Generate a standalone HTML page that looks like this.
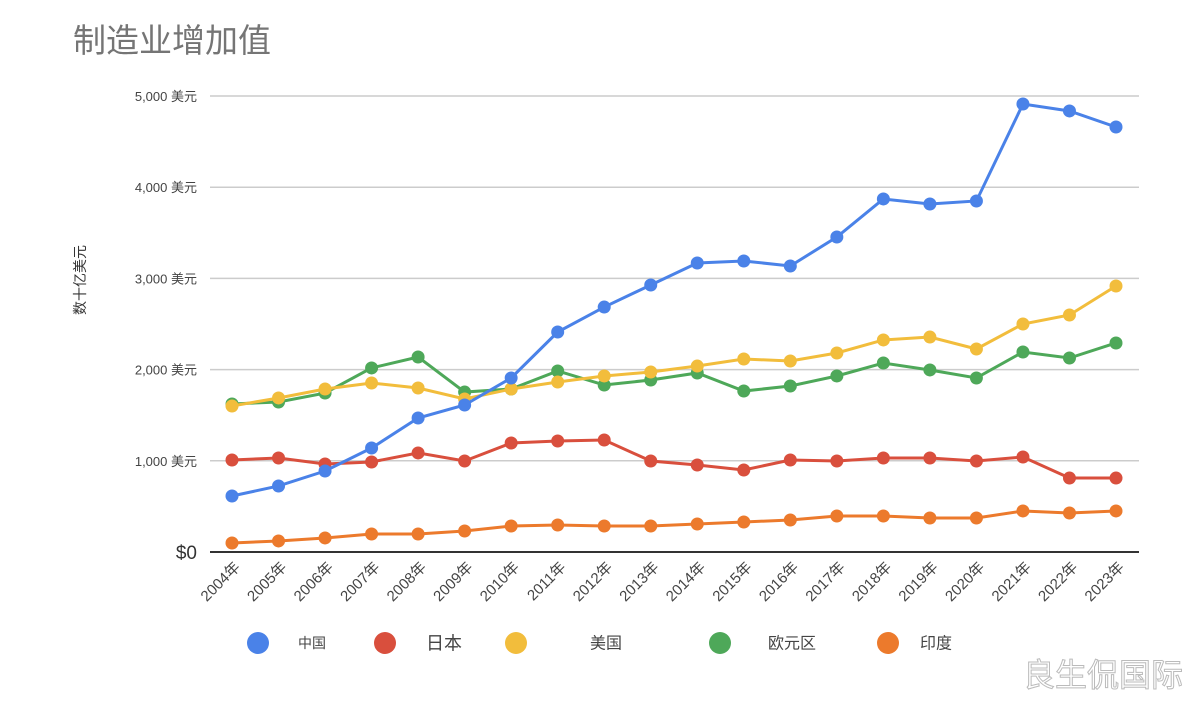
<!DOCTYPE html>
<html><head><meta charset="utf-8"><style>
body{margin:0;background:#fff;}
svg{display:block;font-family:"Liberation Sans","Noto Sans CJK SC",sans-serif;}
</style></head><body>
<svg id="c" width="1200" height="713" viewBox="0 0 1200 713">
<text x="73" y="52" font-size="33" fill="#757575">制造业增加值</text>
<text x="0" y="0" font-size="14" fill="#333" transform="translate(85,280) rotate(-90)" text-anchor="middle">数十亿美元</text>
<g id="grid"></g><g id="xl"></g><g id="series"></g><g id="legend"></g>
<text x="1183" y="686" font-size="32" fill="#fff" stroke="#bbb" stroke-width="1" text-anchor="end">良生侃国际</text>
</svg>
<script>
const years=["2004年","2005年","2006年","2007年","2008年","2009年","2010年","2011年","2012年","2013年","2014年","2015年","2016年","2017年","2018年","2019年","2020年","2021年","2022年","2023年"];
const yTicks=[1000,2000,3000,4000,5000];
const yTickLabels=["1,000 美元","2,000 美元","3,000 美元","4,000 美元","5,000 美元"];
const china=[614,724,888,1140,1469,1612,1908,2412,2686,2928,3169,3191,3136,3454,3871,3816,3849,4912,4836,4660];
const japan=[1009,1031,965,987,1086,998,1195,1217,1228,998,954,899,1009,998,1031,1031,998,1042,811,811];
const usa=[1601,1689,1787,1853,1798,1678,1787,1864,1930,1974,2039,2116,2094,2182,2325,2357,2226,2500,2599,2917];
const euro=[1623,1645,1743,2018,2138,1754,1787,1985,1831,1886,1963,1765,1820,1930,2072,1996,1908,2193,2127,2292];
const india=[99,121,154,197,197,230,285,296,285,285,307,329,351,395,395,373,373,450,428,450];
const names=["中国","日本","美国","欧元区","印度"];
const NS="http://www.w3.org/2000/svg";
const X=i=>232+i*(884/19), Y=v=>552-v*0.0912;
function mk(t,a,p){const e=document.createElementNS(NS,t);for(const k in a)e.setAttribute(k,a[k]);p.appendChild(e);return e;}
const grid=document.getElementById('grid');
yTicks.forEach((v,i)=>{
 const l=mk('line',{x1:210,x2:1139,y1:Y(v),y2:Y(v),stroke:'#ccc','stroke-width':1.5},grid);
 
 
 const t=mk('text',{x:197,y:Y(v)+5,'font-size':13,fill:'#444','text-anchor':'end'},grid);t.textContent=yTickLabels[i];
 
 
});
const z=mk('text',{x:197,y:559,'font-size':19,fill:'#333','text-anchor':'end'},grid);z.textContent='$0';


const ax=mk('line',{x1:210,x2:1139,y1:552,y2:552,stroke:'#333','stroke-width':2},grid);


const xl=document.getElementById('xl');
years.forEach((y,i)=>{
 const x=X(i)+9;
 const t=mk('text',{x:x,y:568,'font-size':15,fill:'#444','text-anchor':'end',transform:`rotate(-45 ${x} 568)`},xl);t.textContent=y;
 
 
});
const colors=["#4a82e8","#d94f3d","#f2bd3c","#4ea859","#ec7a2c"];
const data=[china,japan,usa,euro,india];
const order=[4,1,3,2,0];
const sg=document.getElementById('series');
order.forEach(s=>{
 const g=mk('g',{},sg);
 
 
 mk('polyline',{points:data[s].map((v,i)=>X(i)+','+Y(v)).join(' '),fill:'none',stroke:colors[s],'stroke-width':3},g);
 data[s].forEach((v,i)=>{const c=mk('circle',{cx:X(i),cy:Y(v),r:6.5,fill:colors[s]},g);
  
  });
});
const lg=document.getElementById('legend');
const lx=[258,385,516,720,888],tx=[298,426,590,768,920],fs=[14,18,16,16,16];
names.forEach((n,i)=>{
 const g=mk('g',{},lg);
 
 
 mk('circle',{cx:lx[i],cy:643,r:11,fill:colors[i]},g);
 const t=mk('text',{x:tx[i],y:643+fs[i]*0.35,'font-size':fs[i],fill:'#444'},g);t.textContent=n;
});
</script>
</body></html>
